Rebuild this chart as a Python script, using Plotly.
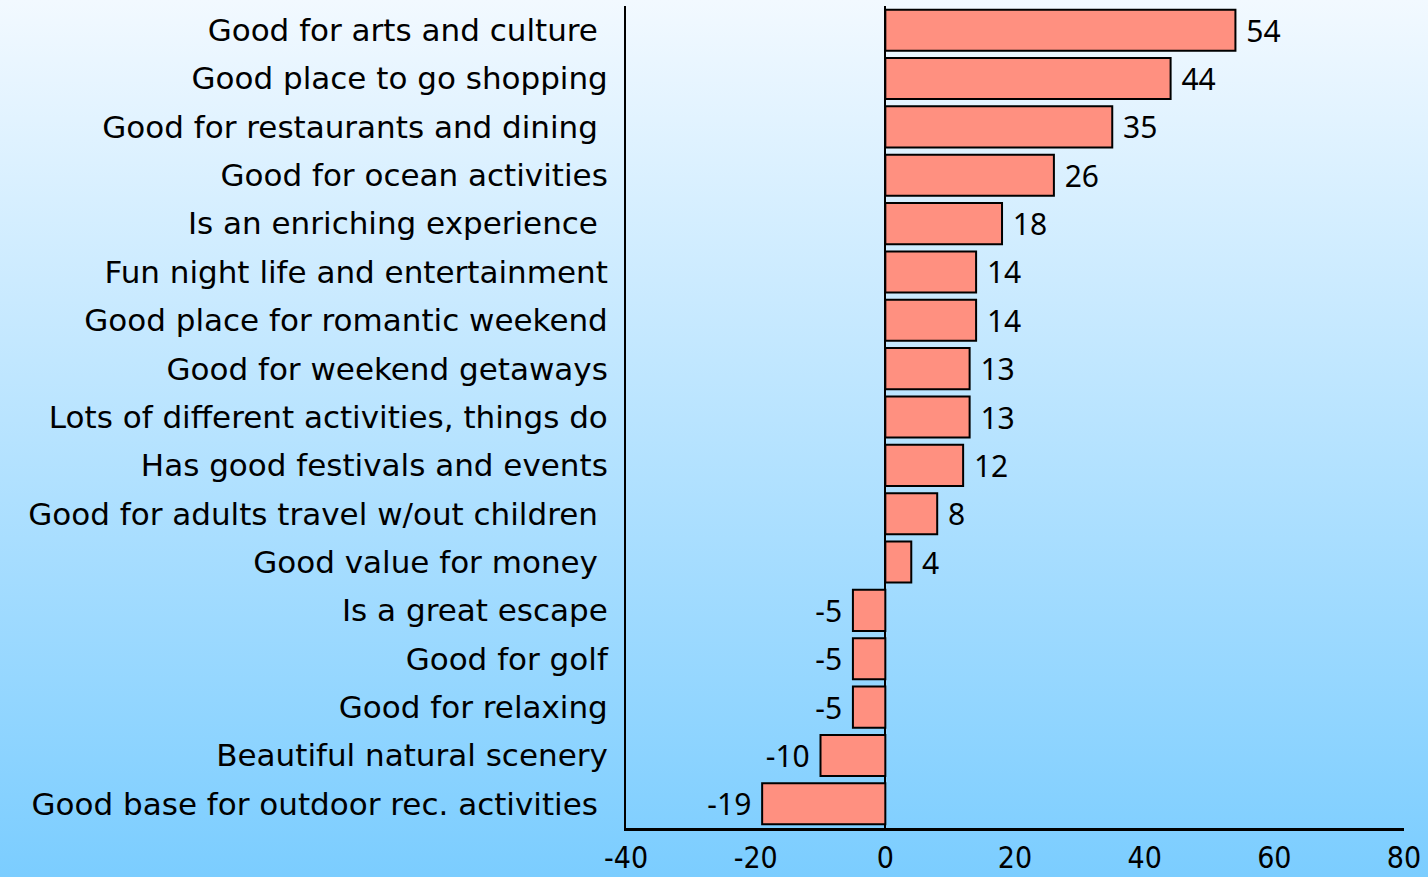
import plotly.graph_objects as go
import base64

categories = [
    "Good for arts and culture\u00a0",
    "Good place to go shopping",
    "Good for restaurants and dining\u00a0",
    "Good for ocean activities",
    "Is an enriching experience\u00a0",
    "Fun night life and entertainment",
    "Good place for romantic weekend",
    "Good for weekend getaways",
    "Lots of different activities, things do",
    "Has good festivals and events",
    "Good for adults travel w/out children\u00a0",
    "Good value for money\u00a0",
    "Is a great escape",
    "Good for golf",
    "Good for relaxing",
    "Beautiful natural scenery",
    "Good base for outdoor rec. activities\u00a0",
]
values = [54, 44, 35, 26, 18, 14, 14, 13, 13, 12, 8, 4, -5, -5, -5, -10, -19]
x_ticks = [-40, -20, 0, 20, 40, 60, 80]

W, H = 1428, 877
L, R, T, B = 626, 24, 6, 49
pw, ph = W - L - R, H - T - B

svg = (f'<svg xmlns="http://www.w3.org/2000/svg" width="{W}" height="{H}" viewBox="0 0 {W} {H}" preserveAspectRatio="none">'
       '<defs><linearGradient id="g" x1="0" y1="0" x2="0" y2="1">'
       '<stop offset="0" stop-color="#F2F9FF"/><stop offset="1" stop-color="#7BCDFF"/>'
       '</linearGradient></defs>'
       f'<rect x="0" y="0" width="{W}" height="{H}" fill="url(#g)"/></svg>')
uri = "data:image/svg+xml;base64," + base64.b64encode(svg.encode()).decode()

labels = [("\u00a0" + str(v)) if v >= 0 else (str(v) + "\u00a0") for v in values]

fig = go.Figure(go.Bar(
    x=values, y=categories, orientation="h",
    marker=dict(color="#FF9080", line=dict(color="black", width=2)),
    text=labels, textposition="outside",
    textfont=dict(family="Noto Sans, DejaVu Sans, sans-serif", size=30, color="black"),
    cliponaxis=False, width=0.85,
))

fig.update_layout(
    width=W, height=H,
    margin=dict(l=L, r=R, t=T, b=B),
    paper_bgcolor="#B5E0FC", plot_bgcolor="rgba(0,0,0,0)",
    showlegend=False,
    images=[dict(source=uri, xref="paper", yref="paper",
                 x=-L / pw, y=1 + T / ph, sizex=W / pw, sizey=H / ph,
                 sizing="stretch", xanchor="left", yanchor="top", layer="below")],
    xaxis=dict(range=[-40, 80], tickvals=x_ticks, ticktext=[str(t) for t in x_ticks],
               showgrid=False, showline=True, linecolor="black", linewidth=2.5,
               zeroline=True, zerolinecolor="black", zerolinewidth=1.5,
               ticks="", ticklabelstandoff=1, automargin=False,
               tickfont=dict(family="Liberation Sans Narrow, DejaVu Sans Condensed, sans-serif", size=30, color="black")),
    yaxis=dict(autorange="reversed", showgrid=False, showline=True, linecolor="black", linewidth=2,
               ticks="", ticklabelstandoff=10, automargin=False,
               tickfont=dict(family="DejaVu Sans, sans-serif", size=31, color="black")),
)

fig.write_html("out.html", config={"displayModeBar": False},
               post_script="document.body.style.margin='0';document.body.style.overflow='hidden';")
